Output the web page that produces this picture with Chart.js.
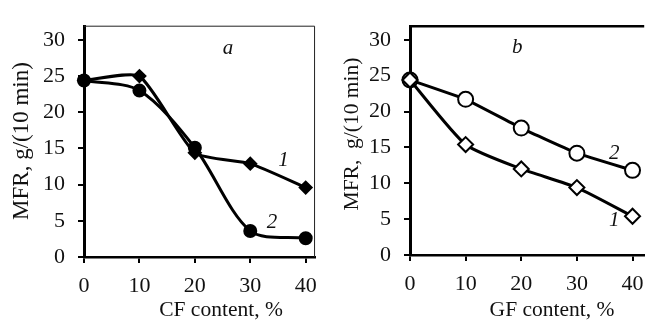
<!DOCTYPE html>
<html>
<head>
<meta charset="utf-8">
<script src="https://cdn.jsdelivr.net/npm/chart.js@4.4.1/dist/chart.umd.min.js"></script>
<style>
  html, body { margin: 0; padding: 0; background: #fff; }
  .panel { position: absolute; top: 0; width: 327px; height: 327px; }
  #panelA { left: 0; }
  #panelB { left: 327px; }
</style>
</head>
<body>
<div class="panel" id="panelA"><canvas id="chartA"></canvas></div>
<div class="panel" id="panelB"><canvas id="chartB"></canvas></div>
<script>
// fibre content, %
var content = [0, 10, 20, 30, 40];
var xTicks = [0, 10, 20, 30, 40];
var yTicks = [0, 5, 10, 15, 20, 25, 30];

// panel a - carbon fibre
var cfCurve1 = [24.4, 25.0, 14.4, 12.9, 9.6];
var cfCurve2 = [24.4, 23.0, 15.1, 3.6, 2.6];

// panel b - glass fibre
var gfCurve1 = [24.4, 15.4, 12.0, 9.4, 5.4];
var gfCurve2 = [24.4, 21.7, 17.7, 14.2, 11.8];

var FONT = "'Liberation Serif', 'Times New Roman', serif";

function pts(xs, ys) {
  return xs.map(function (x, i) { return { x: x, y: ys[i] }; });
}

// draws frame lines, axis titles and curve numbers
var textPlugin = {
  id: 'texts',
  afterDraw: function (chart, args, opts) {
    var ctx = chart.ctx, a = chart.chartArea;
    var xs = chart.scales.x, ys = chart.scales.y;
    ctx.save();
    // top / right frame
    ctx.strokeStyle = opts.frameColor;
    ctx.lineWidth = opts.frameWidth;
    ctx.beginPath();
    ctx.moveTo(a.left, a.top);
    ctx.lineTo(a.right, a.top);
    if (opts.rightLine) ctx.lineTo(a.right, a.bottom);
    ctx.stroke();

    ctx.fillStyle = '#111';
    ctx.textAlign = 'center';
    ctx.textBaseline = 'middle';
    ctx.font = '21.5px ' + FONT;
    ctx.fillText(opts.xTitle, opts.xTitlePos[0], opts.xTitlePos[1]);

    ctx.save();
    ctx.translate(opts.yTitlePos[0], opts.yTitlePos[1]);
    ctx.rotate(-Math.PI / 2);
    ctx.font = opts.yTitleSize + 'px ' + FONT;
    ctx.fillText(opts.yTitle, 0, 0);
    ctx.restore();

    ctx.font = 'italic 21px ' + FONT;
    opts.notes.forEach(function (n) {
      ctx.fillText(n.text, xs.getPixelForValue(n.x), ys.getPixelForValue(n.y));
    });
    ctx.restore();
  }
};

function makeChart(id, sets, pad, yWidth, xHeight, plug) {
  return new Chart(document.getElementById(id), {
    type: 'line',
    data: { datasets: sets },
    options: {
      responsive: true,
      maintainAspectRatio: false,
      animation: false,
      layout: { padding: pad },
      plugins: { legend: { display: false }, tooltip: { enabled: false }, texts: plug },
      scales: {
        x: {
          type: 'linear', min: 0, max: plug.xMax,
          afterBuildTicks: function (s) { s.ticks = xTicks.map(function (v) { return { value: v }; }); },
          afterFit: function (s) { s.height = xHeight; },
          border: { display: true, color: '#000', width: 2.5 },
          grid: { drawOnChartArea: false, color: '#000', lineWidth: 2, tickLength: 6 },
          ticks: { color: '#111', font: { family: FONT, size: 22 }, padding: 10, maxRotation: 0 }
        },
        y: {
          min: 0, max: 31.9,
          afterBuildTicks: function (s) { s.ticks = yTicks.map(function (v) { return { value: v }; }); },
          afterFit: function (s) { s.width = yWidth; },
          border: { display: true, color: '#000', width: 3 },
          grid: { drawOnChartArea: false, color: '#000', lineWidth: 2, tickLength: 6 },
          ticks: { color: '#111', font: { family: FONT, size: 22 }, padding: 13 }
        }
      }
    },
    plugins: [textPlugin]
  });
}

function series(data, style, radius, fill, tension) {
  return {
    data: data, borderColor: '#000', borderWidth: 3, tension: tension, clip: false,
    pointStyle: style, pointRadius: radius, pointBorderWidth: 2,
    pointBorderColor: '#000', pointBackgroundColor: fill
  };
}

makeChart('chartA', [
  series(pts(content, cfCurve1), 'rectRot', 6, '#000', 0.18),
  series(pts(content, cfCurve2), 'circle', 6, '#000', 0.3)
], { top: 10, right: 5, left: 0, bottom: 0 }, 84, 70, {
  xMax: 41.6, frameColor: '#222', frameWidth: 1, rightLine: true,
  xTitle: 'CF content, %', xTitlePos: [221, 310],
  yTitle: 'MFR, g/(10 min)', yTitlePos: [22, 141], yTitleSize: 23,
  notes: [{ text: 'a', x: 26, y: 28.8 }, { text: '1', x: 36, y: 13.4 }, { text: '2', x: 33.9, y: 4.8 }]
});

makeChart('chartB', [
  series(pts(content, gfCurve1), 'rectRot', 7.5, '#fff', 0.2),
  series(pts(content, gfCurve2), 'circle', 7.5, '#fff', 0.1)
], { top: 10, right: 0, left: 0, bottom: 0 }, 83, 72, {
  xMax: 42.1, frameColor: '#000', frameWidth: 2.5, rightLine: false,
  xTitle: 'GF content, %', xTitlePos: [225, 310],
  yTitle: 'MFR,  g/(10 min)', yTitlePos: [25, 134], yTitleSize: 21.5,
  notes: [{ text: 'b', x: 19.3, y: 28.9 }, { text: '2', x: 36.7, y: 14.1 }, { text: '1', x: 36.7, y: 4.8 }]
});
</script>
</body>
</html>
